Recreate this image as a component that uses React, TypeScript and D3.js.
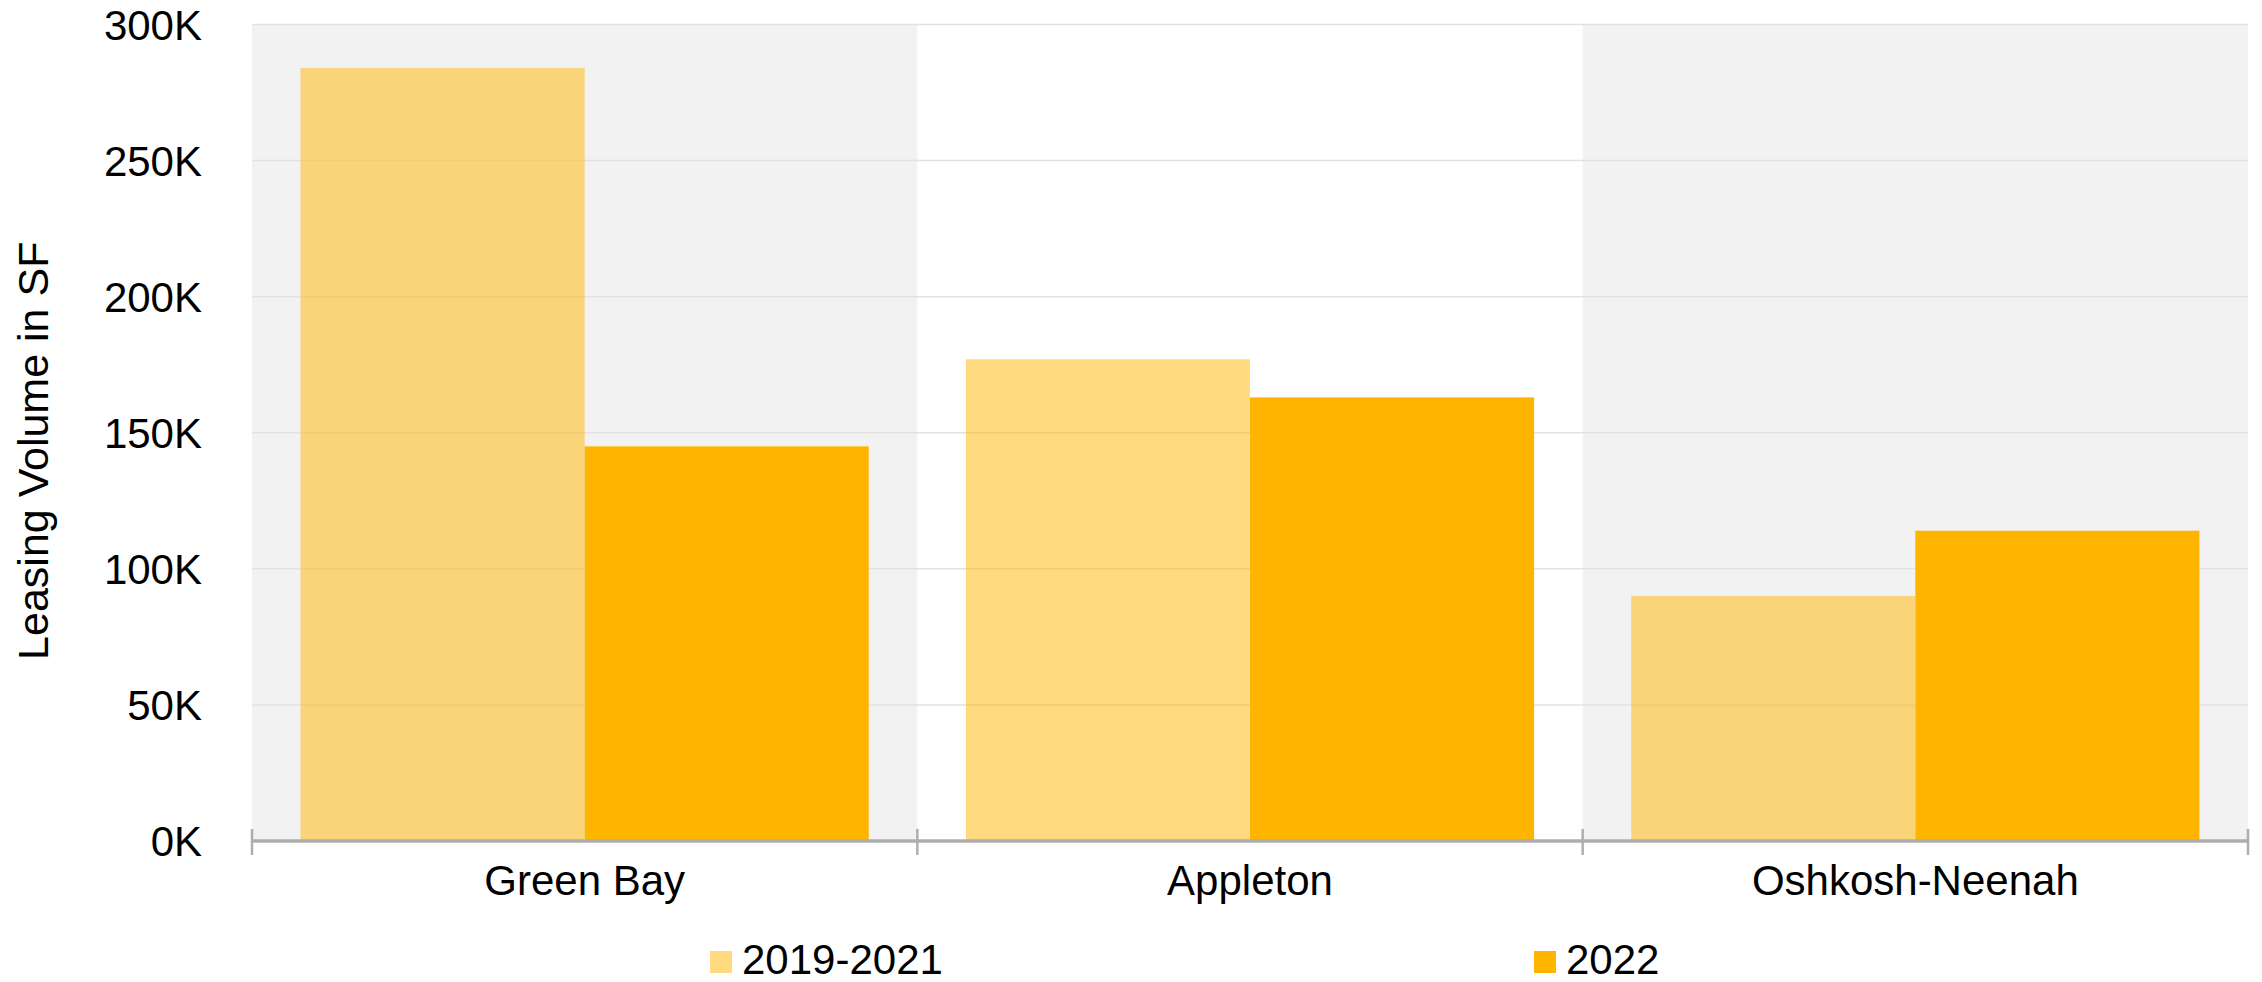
import React from "react";
import * as d3 from "d3";

const categories = ["Green Bay", "Appleton", "Oshkosh-Neenah"];
const seriesNames = ["2019-2021", "2022"];
const values2019_2021 = [284, 177, 90];
const values2022 = [145, 163, 114];
const yTicks = [0, 50, 100, 150, 200, 250, 300];
const yTickLabels = ["0K", "50K", "100K", "150K", "200K", "250K", "300K"];

const W = 2262;
const H = 982;
const left = 252;
const right = 2248;
const top = 24.5;
const bottom = 841;
const ORANGE = "#FFB500";
const FONT = "'Liberation Sans', Arial, sans-serif";

export default function App() {
  const x = d3.scaleBand<string>().domain(categories).range([left, right]).paddingInner(0).paddingOuter(0);
  const y = d3.scaleLinear().domain([0, 300]).range([bottom, top]);
  const inner = d3
    .scaleBand<string>()
    .domain(seriesNames)
    .range([0, x.bandwidth()])
    .paddingInner(0)
    .paddingOuter(0.171);
  const series = [values2019_2021, values2022];
  const boundaries = [...categories.map((c) => x(c) as number), right];

  return (
    <svg
      width={W}
      height={H}
      style={{ position: "absolute", left: 0, top: 0, display: "block" }}
      fontFamily={FONT}
    >
      <rect x={0} y={0} width={W} height={H} fill="#fff" />
      {categories.map((c, i) =>
        i % 2 === 0 ? (
          <rect key={c} x={x(c)} y={top} width={x.bandwidth()} height={bottom - top} fill="#F2F2F2" />
        ) : null
      )}
      {yTicks.map((t) => (
        <line key={t} x1={left} x2={right} y1={y(t)} y2={y(t)} stroke="#E2E2E2" strokeWidth={1.5} />
      ))}
      {categories.map((c, ci) =>
        series.map((vals, si) => (
          <rect
            key={c + si}
            x={(x(c) as number) + (inner(seriesNames[si]) as number)}
            y={y(vals[ci])}
            width={inner.bandwidth()}
            height={bottom - y(vals[ci])}
            fill={ORANGE}
            fillOpacity={si === 0 ? 0.5 : 1}
          />
        ))
      )}
      <line x1={left} x2={right} y1={bottom} y2={bottom} stroke="#B0ADAD" strokeWidth={3.5} />
      {boundaries.map((b, i) => (
        <line key={i} x1={b} x2={b} y1={829} y2={855} stroke="#B0ADAD" strokeWidth={2.5} />
      ))}
      {yTicks.map((t, i) => (
        <text key={t} x={202} y={y(t) + 15} textAnchor="end" fontSize={42} fill="#000">
          {yTickLabels[i]}
        </text>
      ))}
      {categories.map((c) => (
        <text
          key={c}
          x={(x(c) as number) + x.bandwidth() / 2}
          y={895}
          textAnchor="middle"
          fontSize={42}
          fill="#000"
        >
          {c}
        </text>
      ))}
      <text
        transform={`translate(48, ${(top + bottom) / 2 + 18}) rotate(-90)`}
        textAnchor="middle"
        fontSize={43}
        fill="#000"
      >
        Leasing Volume in SF
      </text>
      {seriesNames.map((s, i) => {
        const lx = i === 0 ? 710 : 1534;
        return (
          <g key={s}>
            <rect x={lx} y={951} width={22} height={22} fill={ORANGE} fillOpacity={i === 0 ? 0.5 : 1} />
            <text x={lx + 32} y={974} fontSize={42} fill="#000">
              {s}
            </text>
          </g>
        );
      })}
    </svg>
  );
}
